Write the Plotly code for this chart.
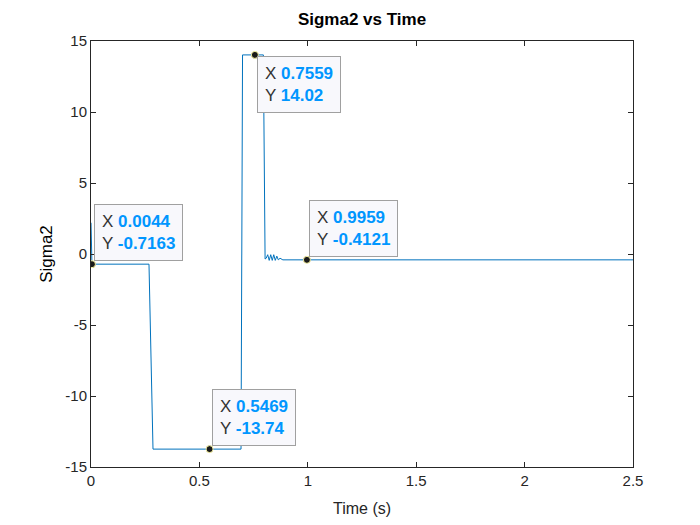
import plotly.graph_objects as go

# Signal samples
time_s = [0.0, 0.0044, 0.2675, 0.286, 0.5469, 0.692, 0.699, 0.7559, 0.795, 0.803,
          0.808, 0.815, 0.822, 0.829, 0.836, 0.843, 0.850, 0.857, 0.864, 0.872, 0.885,
          0.9959, 1.5, 2.0, 2.5]
sigma2 = [2.2, -0.7163, -0.7163, -13.74, -13.74, -13.74, 14.02, 14.02, 14.02, -0.35,
          -0.30, -0.05, -0.45, -0.05, -0.45, -0.05, -0.45, -0.15, -0.41, -0.30, -0.4121,
          -0.4121, -0.4121, -0.4121, -0.4121]

# Data tips
tip_x = [0.0044, 0.5469, 0.7559, 0.9959]
tip_y = [-0.7163, -13.74, 14.02, -0.4121]
tip_xlabel = ["0.0044", "0.5469", "0.7559", "0.9959"]
tip_ylabel = ["-0.7163", "-13.74", "14.02", "-0.4121"]
tip_anchor = ["bottom", "bottom", "top", "bottom"]

x_ticks = [0, 0.5, 1, 1.5, 2, 2.5]
x_ticklabels = ["0", "0.5", "1", "1.5", "2", "2.5"]
y_ticks = [-15, -10, -5, 0, 5, 10, 15]
y_ticklabels = ["-15", "-10", "-5", "0", "5", "10", "15"]

FONT = "Liberation Sans, Arial, sans-serif"
BLUE = "#0096FF"

# page body has an 8px margin; size the figure so the plot box lands where the reference's is
W, H = 692, 517

fig = go.Figure()
fig.add_trace(go.Scatter(x=time_s, y=sigma2, mode="lines",
                         line=dict(color="#0072BD", width=1), hoverinfo="skip",
                         showlegend=False))
fig.add_trace(go.Scatter(x=tip_x, y=tip_y, mode="markers",
                         marker=dict(color="#1a1a1a", size=7,
                                     line=dict(color="#f5f0a0", width=1)),
                         showlegend=False, hoverinfo="skip"))

for xv, yv, xl, yl, anc in zip(tip_x, tip_y, tip_xlabel, tip_ylabel, tip_anchor):
    txt = (f"X <b><span style='color:{BLUE}'>{xl}</span></b><br>"
           f"Y <b><span style='color:{BLUE}'>{yl}</span></b>")
    fig.add_annotation(x=xv, y=yv, xref="x", yref="y", text=txt, showarrow=False,
                       xanchor="left", yanchor=anc, align="left",
                       xshift=2, yshift=(3 if anc == "bottom" else -1),
                       font=dict(family=FONT, size=17, color="#333333"),
                       bgcolor="#F8F8FC", bordercolor="#a0a0a0", borderwidth=1,
                       borderpad=7)

axis_common = dict(showgrid=False, zeroline=False, showline=True, linecolor="#262626",
                   linewidth=1, mirror="ticks", ticks="inside", ticklen=5,
                   tickcolor="#262626",
                   tickfont=dict(family=FONT, size=15, color="#262626"))

fig.update_layout(
    width=W, height=H,
    margin=dict(l=83, r=67, t=33, b=58),
    paper_bgcolor="white", plot_bgcolor="white",
    title=dict(text="<b>Sigma2 vs Time</b>", x=0.5, xref="paper", xanchor="center",
               y=1 - 11 / H, yanchor="middle",
               font=dict(family=FONT, size=17, color="black")),
    xaxis=dict(range=[0, 2.5], tickvals=x_ticks, ticktext=x_ticklabels,
               title=dict(text="Time (s)", standoff=14,
                          font=dict(family=FONT, size=16, color="#262626")),
               **axis_common),
    yaxis=dict(range=[-15, 15], tickvals=y_ticks, ticktext=y_ticklabels,
               title=dict(text="Sigma2", standoff=8,
                          font=dict(family=FONT, size=17, color="black")),
               **axis_common),
)

fig.write_html("out.html")
